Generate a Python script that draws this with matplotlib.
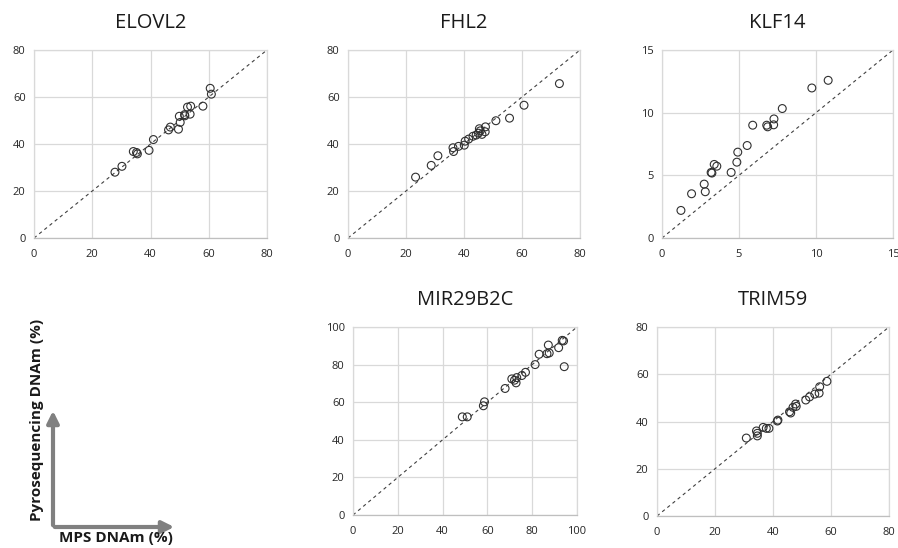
import matplotlib.pyplot as plt

plt.rcParams['font.family'] = ['Open Sans', 'DejaVu Sans']

elovl2_mps = [27.8, 30.2, 34.1, 35.2, 35.5, 39.5, 41.0, 46.2, 46.8, 49.6, 50.2, 49.9, 51.7, 51.8, 52.7, 53.8, 53.6, 58.0, 60.5, 60.9]
elovl2_pyro = [28.0, 30.5, 36.8, 36.4, 35.8, 37.3, 41.9, 46.0, 47.2, 46.3, 49.2, 51.8, 52.5, 52.0, 55.7, 56.1, 52.7, 56.1, 63.7, 61.2]

fhl2_mps = [23.3, 28.7, 31.0, 36.2, 36.4, 38.1, 40.1, 40.4, 41.6, 43.1, 44.2, 45.0, 45.3, 45.6, 46.2, 47.3, 47.4, 51.0, 55.7, 60.7, 72.9]
fhl2_pyro = [25.9, 30.9, 35.0, 38.4, 36.8, 39.0, 39.5, 41.2, 42.1, 43.3, 43.8, 44.6, 46.5, 45.6, 44.1, 45.2, 47.3, 49.9, 51.0, 56.5, 65.7]

klf14_mps = [1.23, 1.92, 2.74, 2.81, 3.19, 3.24, 3.39, 3.56, 4.49, 4.86, 4.92, 5.53, 5.89, 6.80, 6.86, 7.25, 7.27, 7.81, 9.73, 10.79]
klf14_pyro = [2.20, 3.53, 4.30, 3.69, 5.23, 5.18, 5.87, 5.73, 5.23, 6.05, 6.85, 7.38, 9.00, 9.00, 8.87, 9.03, 9.50, 10.33, 11.97, 12.58]

mir_mps = [48.8, 51.0, 58.2, 58.7, 67.9, 70.9, 72.1, 72.8, 73.1, 75.4, 77.0, 81.3, 83.1, 86.6, 87.6, 87.2, 91.8, 93.4, 94.0, 94.3]
mir_pyro = [52.2, 52.2, 58.1, 60.2, 67.3, 72.4, 71.7, 70.3, 73.1, 74.2, 75.9, 80.0, 85.5, 85.8, 86.2, 90.4, 89.0, 92.9, 92.6, 78.9]

trim59_mps = [30.8, 34.3, 34.6, 34.6, 36.6, 37.7, 38.6, 41.5, 41.7, 45.7, 46.1, 46.9, 48.0, 47.8, 51.3, 52.6, 54.4, 55.9, 56.1, 58.6]
trim59_pyro = [33.0, 36.0, 33.9, 35.0, 37.5, 37.1, 37.1, 40.2, 40.6, 44.1, 43.6, 46.0, 46.4, 47.4, 49.1, 50.4, 51.6, 52.0, 54.7, 57.0]

W, H = 898, 548
fig = plt.figure(figsize=(W / 100, H / 100), dpi=100)


def panel(box, title, xs, ys, lim, step):
    l, t, r, b = box
    ax = fig.add_axes([l / W, 1 - b / H, (r - l) / W, (b - t) / H])
    ax.plot([0, lim], [0, lim], ls=(0, (3, 3)), color='#404040', lw=0.8, zorder=2)
    ax.scatter(xs, ys, s=32, facecolors='none', edgecolors='#303030', linewidths=0.8, zorder=3)
    ax.set_xlim(0, lim)
    ax.set_ylim(0, lim)
    ticks = list(range(0, lim + 1, step))
    ax.set_xticks(ticks)
    ax.set_yticks(ticks)
    ax.grid(True, color='#d9d9d9', lw=0.9)
    ax.set_axisbelow(True)
    ax.tick_params(length=0, labelsize=8, colors='#262626')
    ax.tick_params(axis='x', pad=8)
    ax.tick_params(axis='y', pad=6)
    for s in ax.spines.values():
        s.set_color('#d9d9d9')
        s.set_linewidth(0.9)
    ax.spines['bottom'].set_color('#bfbfbf')
    ax.set_title(title, fontsize=14.5, pad=16, color='#1a1a1a')
    return ax


panel((34, 50, 267, 238), 'ELOVL2', elovl2_mps, elovl2_pyro, 80, 20)
panel((348, 50, 580, 238), 'FHL2', fhl2_mps, fhl2_pyro, 80, 20)
panel((662, 50, 893, 238), 'KLF14', klf14_mps, klf14_pyro, 15, 5)
panel((353, 327, 577, 515), 'MIR29B2C', mir_mps, mir_pyro, 100, 20)
panel((657, 327, 889, 516), 'TRIM59', trim59_mps, trim59_pyro, 80, 20)

# axis legend arrows at bottom left
ov = fig.add_axes([0, 0, 1, 1])
ov.set_xlim(0, W)
ov.set_ylim(H, 0)
ov.axis('off')
ov.annotate('', xy=(53, 408), xytext=(53, 528),
            arrowprops=dict(arrowstyle='-|>,head_width=0.35,head_length=0.7', color='#808080', lw=3))
ov.annotate('', xy=(177, 527), xytext=(52, 527),
            arrowprops=dict(arrowstyle='-|>,head_width=0.35,head_length=0.7', color='#808080', lw=3))
ov.text(37, 420, 'Pyrosequencing DNAm (%)', rotation=90, ha='center', va='center',
        fontsize=11, fontweight='bold', color='#1a1a1a')
ov.text(116, 538, 'MPS DNAm (%)', ha='center', va='center',
        fontsize=11, fontweight='bold', color='#1a1a1a')

fig.savefig('out.png', dpi=100)
